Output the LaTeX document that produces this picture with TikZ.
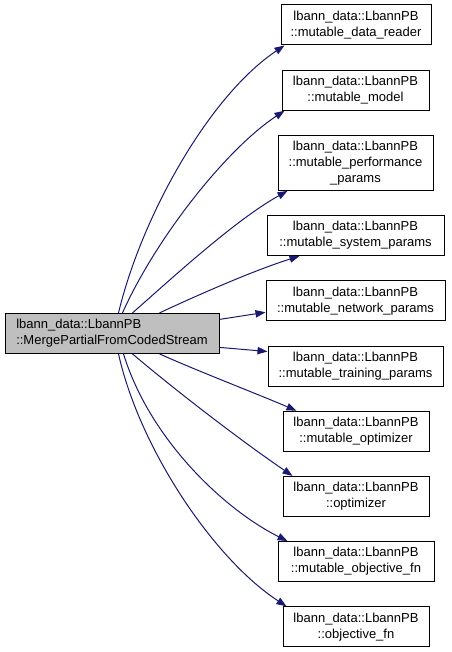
\documentclass[tikz,border=0pt]{standalone}
\usepackage{fontspec}
\setmainfont{Liberation Sans}
\usetikzlibrary{arrows.meta,calc}
\definecolor{edgeblue}{HTML}{191970}
\definecolor{mainfill}{HTML}{BFBFBF}
\tikzset{
  box/.style={draw=black, line width=0.75pt, rectangle, inner sep=0pt, align=center,
    font=\fontsize{9.75}{12}\selectfont, minimum height=30pt},
  mainbox/.style={box, fill=mainfill, align=left},
  link/.style={draw=edgeblue, line width=0.75pt, -{Triangle[length=7.5pt,width=5.5pt]}}
}
\begin{document}
\begin{tikzpicture}[x=0.75pt,y=-0.75pt]
\useasboundingbox (0,0) rectangle (451,652);
\node[mainbox, minimum width=160.5pt] (m) at (112,333.4) {lbann\_data::LbannPB\\::MergePartialFromCodedStream};
\node[box, minimum width=112.5pt] (b1) at (356,25) {lbann\_data::LbannPB\\::mutable\_data\_reader};
\node[box, minimum width=110.25pt] (b2) at (355.5,90.2) {lbann\_data::LbannPB\\::mutable\_model};
\node[box, minimum width=116.25pt, minimum height=41.25pt] (b3) at (355.5,162.9) {lbann\_data::LbannPB\\::mutable\_performance\\\_params};
\node[box, minimum width=132.75pt] (b4) at (355.5,235.6) {lbann\_data::LbannPB\\::mutable\_system\_params};
\node[box, minimum width=134.25pt] (b5) at (355.5,300.8) {lbann\_data::LbannPB\\::mutable\_network\_params};
\node[box, minimum width=131.25pt] (b6) at (355.5,366) {lbann\_data::LbannPB\\::mutable\_training\_params};
\node[box, minimum width=109.5pt] (b7) at (356,431.2) {lbann\_data::LbannPB\\::mutable\_optimizer};
\node[box, minimum width=109.5pt] (b8) at (356,496.4) {lbann\_data::LbannPB\\::optimizer};
\node[box, minimum width=117pt] (b9) at (356,561.6) {lbann\_data::LbannPB\\::mutable\_objective\_fn};
\node[box, minimum width=109.5pt] (b10) at (356,626.8) {lbann\_data::LbannPB\\::objective\_fn};

\draw[link] ($(m.north west)+(114,0)$) .. controls (142,215) and (210,95) .. ($(b1.south west)+(4,0)$);
\draw[link] ($(m.north west)+(118,0)$) .. controls (155,240) and (225,150) .. ($(b2.south west)+(3,0)$);
\draw[link] ($(m.north west)+(128,0)$) .. controls (170,280) and (235,220) .. ($(b3.south west)+(10,0)$);
\draw[link] ($(m.north west)+(155,0)$) .. controls (200,294) and (255,270) .. ($(b4.south west)+(33,0)$);
\draw[link] ($(m.east)+(0,-14)$) -- ($(b5.west)+(0,11.5)$);
\draw[link] ($(m.east)+(0,14)$) -- ($(b6.north west)+(0,6)$);
\draw[link] ($(m.south west)+(155,0)$) .. controls (200,372) and (255,393) .. ($(b7.north west)+(14,0)$);
\draw[link] ($(m.south west)+(128,0)$) .. controls (175,390) and (240,440) .. ($(b8.north west)+(10,0)$);
\draw[link] ($(m.south west)+(119,0)$) .. controls (150,440) and (225,510) .. ($(b9.north west)+(10,0)$);
\draw[link] ($(m.south west)+(114,0)$) .. controls (140,450) and (215,560) .. ($(b10.north west)+(4,0)$);
\end{tikzpicture}
\end{document}
